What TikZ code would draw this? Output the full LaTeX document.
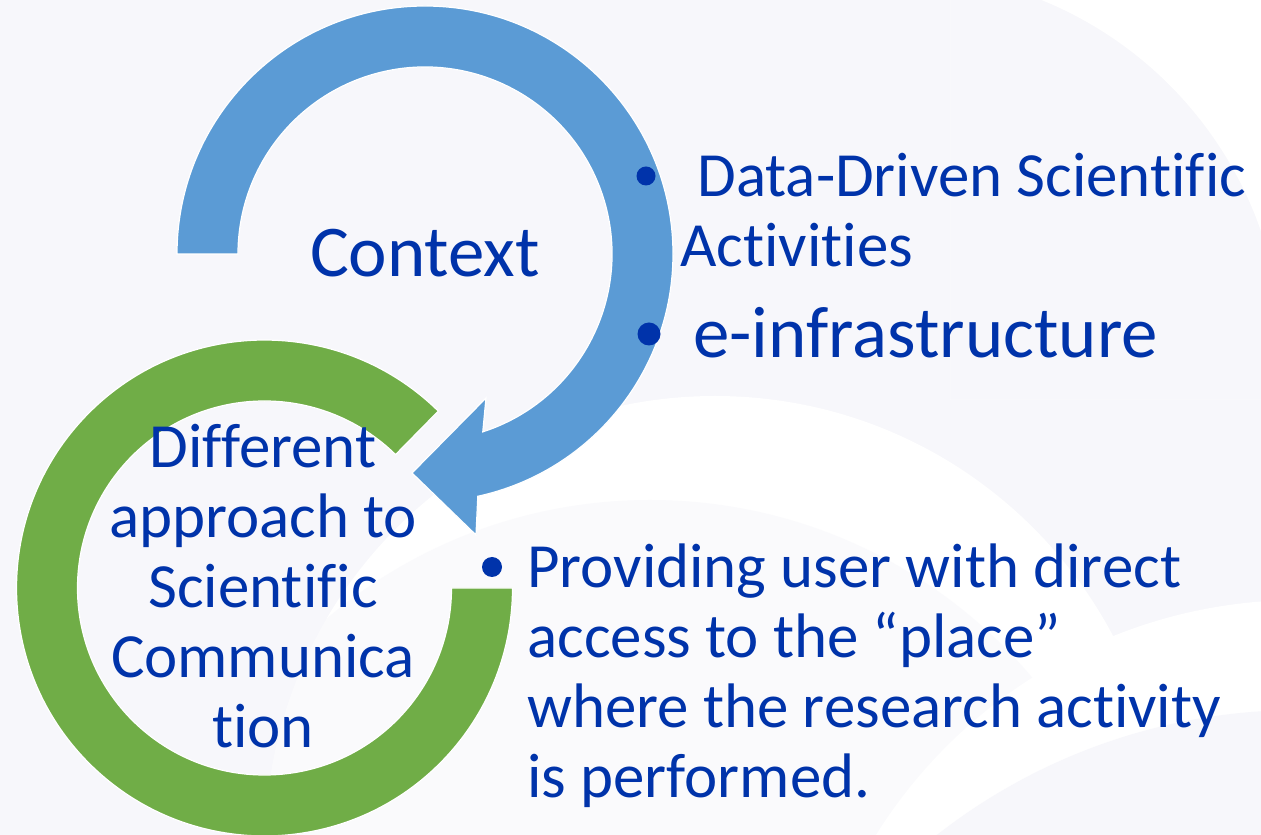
\documentclass[tikz,border=0pt]{standalone}
\usepackage{fontspec}
\setmainfont{Carlito}[Ligatures={NoCommon,NoRare,NoContextual}]
\usetikzlibrary{calc}
\definecolor{bgviolet}{HTML}{F7F7FB}
\definecolor{ringblue}{HTML}{5B9BD5}
\definecolor{ringgreen}{HTML}{70AD47}
\definecolor{txtblue}{HTML}{0033AA}
\newcommand\ctxfont{\fontsize{41.5}{45}\selectfont}
\newcommand\txtfont{\fontsize{35.8}{40}\selectfont}
\newcommand\infrafont{\fontsize{41.5}{46}\selectfont}

\begin{document}
\begin{tikzpicture}[x=0.02cm,y=0.02cm,
    every node/.style={inner sep=0pt,text=txtblue,font=\txtfont},
    ring/.style={fill=#1,draw=white,line width=0.7pt},
    bulletdot/.style={circle,fill=txtblue,minimum size=#1}]
  \useasboundingbox(0,0)rectangle(1261,835);
  \fill[bgviolet](0,0)rectangle(1261,835);
  \begin{scope}
    \clip(950,435)rectangle(1261,835);
    \fill[white,even odd rule](950,435)rectangle(1261,835)(897,478)circle(385);
  \end{scope}
  \begin{scope}
    \clip(0,0)rectangle(1261,835);
    \fill[white](715,-11)circle(450);
    \fill[bgviolet,opacity=.6](650,-165)circle(500);
    \fill[white](1300,-265)circle(500);
    \fill[bgviolet](1300,-465)circle(590);
  \end{scope}
  \coordinate(ctx)at(425,581);
  \coordinate(dif)at(264.5,247);
  \path[ring=ringgreen]($(dif)+(45.5:248)$)arc[start angle=45.5,end angle=360,radius=248]
    --($(dif)+(0:187)$)arc[start angle=360,end angle=45.5,radius=187]--cycle;
  \path[ring=ringblue](177,581)arc[start angle=180,end angle=-77.7,radius=248]
    --(476,300)--(412,362)--(486,437)
    --($(ctx)+(-72:187)$)arc[start angle=-72,end angle=180,radius=187]--cycle;
  \node[anchor=base,font=\ctxfont](context)at(425,558){Context};
  \foreach \ln[count=\i] in {Different,approach to,Scientific,Communica,tion}
    \node[anchor=base](dif\i)at(263,{367-70*(\i-1)}){\ln};
  \node[bulletdot=0.38cm](b1)at(646,659){};
  \node[anchor=base west](data)at(697,638){Data-Driven Scientific};
  \node[anchor=base west](act)at(680,568){Activities};
  \node[bulletdot=0.46cm](b2)at(649,501){};
  \node[anchor=base west,font=\infrafont](einf)at(693,477){e-infrastructure};
  \node[bulletdot=0.4cm](b3)at(492,268){};
  \foreach \ln[count=\i] in {Providing user with direct,access to the “place”,
      where the research activity,is performed.}
    \node[anchor=base west](prov\i)at(527,{247-70*(\i-1)}){\ln};
\end{tikzpicture}
\end{document}
